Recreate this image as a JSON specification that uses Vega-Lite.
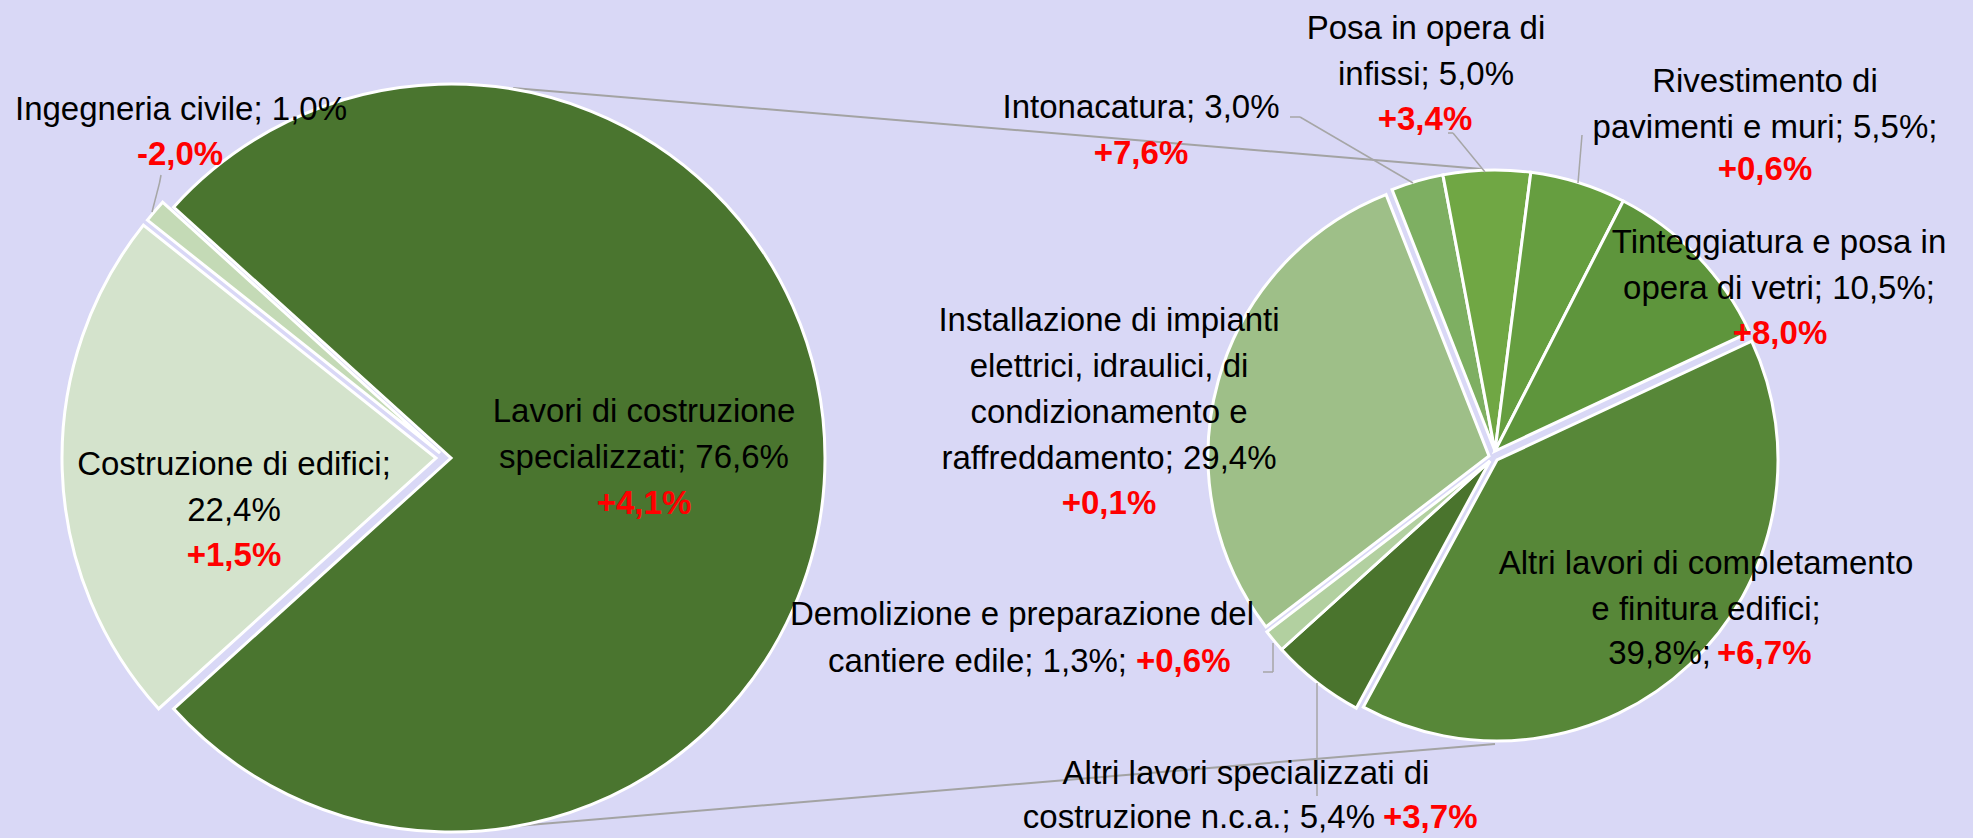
{
"$schema": "https://vega.github.io/schema/vega-lite/v6.json",
"width": 1973, "height": 838, "autosize": {"type": "none"}, "padding": 0,
"background": "#d9d8f6",
"config": {"view": {"stroke": null}, "text": {"font": "Liberation Sans", "fontSize": 33, "lineHeight": 46, "lineBreak": "\n", "baseline": "top", "align": "center", "fill": "#000000"}},
"datasets": {
"left": [
{"cat": "Lavori di costruzione specializzati", "share": 76.6, "ord": 1, "label": "Lavori di costruzione\nspecializzati; 76,6%", "delta": "+4,1%"},
{"cat": "Costruzione di edifici", "share": 22.4, "ord": 2, "label": "Costruzione di edifici;\n22,4%", "delta": "+1,5%"},
{"cat": "Ingegneria civile", "share": 1.0, "ord": 3, "label": "Ingegneria civile; 1,0%", "delta": "-2,0%"}
],
"right": [
{"cat": "Intonacatura", "share": 3.0, "ord": 1, "label": "Intonacatura; 3,0%", "delta": "+7,6%"},
{"cat": "Posa in opera di infissi", "share": 5.0, "ord": 2, "label": "Posa in opera di\ninfissi; 5,0%", "delta": "+3,4%"},
{"cat": "Rivestimento di pavimenti e muri", "share": 5.5, "ord": 3, "label": "Rivestimento di\npavimenti e muri; 5,5%;", "delta": "+0,6%"},
{"cat": "Tinteggiatura e posa in opera di vetri", "share": 10.5, "ord": 4, "label": "Tinteggiatura e posa in\nopera di vetri; 10,5%;", "delta": "+8,0%"},
{"cat": "Altri lavori di completamento e finitura edifici", "share": 39.8, "ord": 5, "label": "Altri lavori di completamento\ne finitura edifici;", "tail": "39,8%;", "delta": "+6,7%"},
{"cat": "Altri lavori specializzati di costruzione n.c.a.", "share": 5.4, "ord": 6, "label": "Altri lavori specializzati di", "tail": "costruzione n.c.a.; 5,4%", "delta": "+3,7%"},
{"cat": "Demolizione e preparazione del cantiere edile", "share": 1.3, "ord": 7, "label": "Demolizione e preparazione del", "tail": "cantiere edile; 1,3%;", "delta": "+0,6%"},
{"cat": "Installazione di impianti elettrici, idraulici, di condizionamento e raffreddamento", "share": 29.4, "ord": 8, "label": "Installazione di impianti\nelettrici, idraulici, di\ncondizionamento e\nraffreddamento; 29,4%", "delta": "+0,1%"}
],
"none": [{}]
},
"resolve": {"scale": {"theta": "independent", "color": "independent"}},
"layer": [
{"data": {"name": "none"}, "mark": {"type": "rule", "stroke": "#a3a3a3", "strokeWidth": 2}, "encoding": {"x": {"value": 513}, "y": {"value": 88}, "x2": {"value": 1482}, "y2": {"value": 169}}},
{"data": {"name": "none"}, "mark": {"type": "rule", "stroke": "#a3a3a3", "strokeWidth": 2}, "encoding": {"x": {"value": 505}, "y": {"value": 827}, "x2": {"value": 1495}, "y2": {"value": 744}}},

{"data": {"name": "left"}, "mark": {"type": "arc", "outerRadius": 374, "stroke": "#ffffff", "strokeWidth": 3},
 "encoding": {"x": {"value": 451}, "y": {"value": 458},
  "theta": {"field": "share", "type": "quantitative", "stack": true, "scale": {"range": [-0.8357, 5.4475]}},
  "order": {"field": "ord", "type": "quantitative"},
  "color": {"field": "cat", "type": "nominal", "legend": null, "scale": {"domain": ["Lavori di costruzione specializzati", "Costruzione di edifici", "Ingegneria civile"], "range": ["#4a752f", "#d4e3cc", "#c4dab6"]}},
  "opacity": {"condition": {"test": "datum.ord === 1", "value": 1}, "value": 0}}},
{"data": {"name": "left"}, "mark": {"type": "arc", "outerRadius": 374, "stroke": "#ffffff", "strokeWidth": 3},
 "encoding": {"x": {"value": 436}, "y": {"value": 458},
  "theta": {"field": "share", "type": "quantitative", "stack": true, "scale": {"range": [-0.8357, 5.4475]}},
  "order": {"field": "ord", "type": "quantitative"},
  "color": {"field": "cat", "type": "nominal", "legend": null, "scale": {"domain": ["Lavori di costruzione specializzati", "Costruzione di edifici", "Ingegneria civile"], "range": ["#4a752f", "#d4e3cc", "#c4dab6"]}},
  "opacity": {"condition": {"test": "datum.ord === 2", "value": 1}, "value": 0}}},
{"data": {"name": "left"}, "mark": {"type": "arc", "outerRadius": 374, "stroke": "#ffffff", "strokeWidth": 3},
 "encoding": {"x": {"value": 440}, "y": {"value": 453},
  "theta": {"field": "share", "type": "quantitative", "stack": true, "scale": {"range": [-0.8357, 5.4475]}},
  "order": {"field": "ord", "type": "quantitative"},
  "color": {"field": "cat", "type": "nominal", "legend": null, "scale": {"domain": ["Lavori di costruzione specializzati", "Costruzione di edifici", "Ingegneria civile"], "range": ["#4a752f", "#d4e3cc", "#c4dab6"]}},
  "opacity": {"condition": {"test": "datum.ord === 3", "value": 1}, "value": 0}}},

{"data": {"name": "right"}, "mark": {"type": "arc", "outerRadius": 281, "stroke": "#ffffff", "strokeWidth": 3},
 "encoding": {"x": {"value": 1495}, "y": {"value": 451},
  "theta": {"field": "share", "type": "quantitative", "stack": true, "scale": {"range": [-0.3752, 5.9080]}},
  "order": {"field": "ord", "type": "quantitative"},
  "color": {"field": "ord", "type": "nominal", "legend": null, "scale": {"domain": [1, 2, 3, 4, 5, 6, 7, 8], "range": ["#7eaf62", "#70a744", "#669e40", "#5e953c", "#578738", "#4a742d", "#b2d0a0", "#9ebf88"]}},
  "opacity": {"condition": {"test": "datum.ord <= 4", "value": 1}, "value": 0}}},
{"data": {"name": "right"}, "mark": {"type": "arc", "outerRadius": 281, "stroke": "#ffffff", "strokeWidth": 3},
 "encoding": {"x": {"value": 1497}, "y": {"value": 460},
  "theta": {"field": "share", "type": "quantitative", "stack": true, "scale": {"range": [-0.3752, 5.9080]}},
  "order": {"field": "ord", "type": "quantitative"},
  "color": {"field": "ord", "type": "nominal", "legend": null, "scale": {"domain": [1, 2, 3, 4, 5, 6, 7, 8], "range": ["#7eaf62", "#70a744", "#669e40", "#5e953c", "#578738", "#4a742d", "#b2d0a0", "#9ebf88"]}},
  "opacity": {"condition": {"test": "datum.ord === 5", "value": 1}, "value": 0}}},
{"data": {"name": "right"}, "mark": {"type": "arc", "outerRadius": 281, "stroke": "#ffffff", "strokeWidth": 3},
 "encoding": {"x": {"value": 1490}, "y": {"value": 461},
  "theta": {"field": "share", "type": "quantitative", "stack": true, "scale": {"range": [-0.3752, 5.9080]}},
  "order": {"field": "ord", "type": "quantitative"},
  "color": {"field": "ord", "type": "nominal", "legend": null, "scale": {"domain": [1, 2, 3, 4, 5, 6, 7, 8], "range": ["#7eaf62", "#70a744", "#669e40", "#5e953c", "#578738", "#4a742d", "#b2d0a0", "#9ebf88"]}},
  "opacity": {"condition": {"test": "datum.ord === 6 || datum.ord === 7", "value": 1}, "value": 0}}},
{"data": {"name": "right"}, "mark": {"type": "arc", "outerRadius": 281, "stroke": "#ffffff", "strokeWidth": 3},
 "encoding": {"x": {"value": 1489}, "y": {"value": 456},
  "theta": {"field": "share", "type": "quantitative", "stack": true, "scale": {"range": [-0.3752, 5.9080]}},
  "order": {"field": "ord", "type": "quantitative"},
  "color": {"field": "ord", "type": "nominal", "legend": null, "scale": {"domain": [1, 2, 3, 4, 5, 6, 7, 8], "range": ["#7eaf62", "#70a744", "#669e40", "#5e953c", "#578738", "#4a742d", "#b2d0a0", "#9ebf88"]}},
  "opacity": {"condition": {"test": "datum.ord === 8", "value": 1}, "value": 0}}},

{"data": {"name": "none"}, "mark": {"type": "rule", "stroke": "#a6a6a6", "strokeWidth": 1.5}, "encoding": {"x": {"value": 161}, "y": {"value": 175}, "x2": {"value": 159.5}, "y2": {"value": 183}}},
{"data": {"name": "none"}, "mark": {"type": "rule", "stroke": "#a6a6a6", "strokeWidth": 1.5}, "encoding": {"x": {"value": 159.5}, "y": {"value": 183}, "x2": {"value": 152}, "y2": {"value": 212}}},
{"data": {"name": "none"}, "mark": {"type": "rule", "stroke": "#a6a6a6", "strokeWidth": 1.5}, "encoding": {"x": {"value": 1290}, "y": {"value": 117}, "x2": {"value": 1300}, "y2": {"value": 117}}},
{"data": {"name": "none"}, "mark": {"type": "rule", "stroke": "#a6a6a6", "strokeWidth": 1.5}, "encoding": {"x": {"value": 1300}, "y": {"value": 117}, "x2": {"value": 1413}, "y2": {"value": 183}}},
{"data": {"name": "none"}, "mark": {"type": "rule", "stroke": "#a6a6a6", "strokeWidth": 1.5}, "encoding": {"x": {"value": 1448}, "y": {"value": 133}, "x2": {"value": 1453}, "y2": {"value": 133}}},
{"data": {"name": "none"}, "mark": {"type": "rule", "stroke": "#a6a6a6", "strokeWidth": 1.5}, "encoding": {"x": {"value": 1453}, "y": {"value": 133}, "x2": {"value": 1485}, "y2": {"value": 172}}},
{"data": {"name": "none"}, "mark": {"type": "rule", "stroke": "#a6a6a6", "strokeWidth": 1.5}, "encoding": {"x": {"value": 1582}, "y": {"value": 135}, "x2": {"value": 1578}, "y2": {"value": 183}}},
{"data": {"name": "none"}, "mark": {"type": "rule", "stroke": "#a6a6a6", "strokeWidth": 1.5}, "encoding": {"x": {"value": 1263}, "y": {"value": 672}, "x2": {"value": 1273}, "y2": {"value": 672}}},
{"data": {"name": "none"}, "mark": {"type": "rule", "stroke": "#a6a6a6", "strokeWidth": 1.5}, "encoding": {"x": {"value": 1273}, "y": {"value": 672}, "x2": {"value": 1273}, "y2": {"value": 643}}},
{"data": {"name": "none"}, "mark": {"type": "rule", "stroke": "#a6a6a6", "strokeWidth": 1.5}, "encoding": {"x": {"value": 1317}, "y": {"value": 683}, "x2": {"value": 1317}, "y2": {"value": 796}}},

{"data": {"name": "left"}, "transform": [{"filter": "datum.ord === 3"}], "mark": {"type": "text"}, "encoding": {"x": {"value": 181}, "y": {"value": 94}, "text": {"field": "label"}}},
{"data": {"name": "left"}, "transform": [{"filter": "datum.ord === 3"}], "mark": {"type": "text", "fontWeight": "bold", "fill": "#ff0000"}, "encoding": {"x": {"value": 180}, "y": {"value": 139}, "text": {"field": "delta"}}},
{"data": {"name": "left"}, "transform": [{"filter": "datum.ord === 2"}], "mark": {"type": "text"}, "encoding": {"x": {"value": 234}, "y": {"value": 449}, "text": {"field": "label"}}},
{"data": {"name": "left"}, "transform": [{"filter": "datum.ord === 2"}], "mark": {"type": "text", "fontWeight": "bold", "fill": "#ff0000"}, "encoding": {"x": {"value": 234}, "y": {"value": 540}, "text": {"field": "delta"}}},
{"data": {"name": "left"}, "transform": [{"filter": "datum.ord === 1"}], "mark": {"type": "text"}, "encoding": {"x": {"value": 644}, "y": {"value": 396}, "text": {"field": "label"}}},
{"data": {"name": "left"}, "transform": [{"filter": "datum.ord === 1"}], "mark": {"type": "text", "fontWeight": "bold", "fill": "#ff0000"}, "encoding": {"x": {"value": 644}, "y": {"value": 488}, "text": {"field": "delta"}}},

{"data": {"name": "right"}, "transform": [{"filter": "datum.ord === 1"}], "mark": {"type": "text"}, "encoding": {"x": {"value": 1141}, "y": {"value": 92}, "text": {"field": "label"}}},
{"data": {"name": "right"}, "transform": [{"filter": "datum.ord === 1"}], "mark": {"type": "text", "fontWeight": "bold", "fill": "#ff0000"}, "encoding": {"x": {"value": 1141}, "y": {"value": 138}, "text": {"field": "delta"}}},
{"data": {"name": "right"}, "transform": [{"filter": "datum.ord === 2"}], "mark": {"type": "text"}, "encoding": {"x": {"value": 1426}, "y": {"value": 13}, "text": {"field": "label"}}},
{"data": {"name": "right"}, "transform": [{"filter": "datum.ord === 2"}], "mark": {"type": "text", "fontWeight": "bold", "fill": "#ff0000"}, "encoding": {"x": {"value": 1425}, "y": {"value": 104}, "text": {"field": "delta"}}},
{"data": {"name": "right"}, "transform": [{"filter": "datum.ord === 3"}], "mark": {"type": "text"}, "encoding": {"x": {"value": 1765}, "y": {"value": 66}, "text": {"field": "label"}}},
{"data": {"name": "right"}, "transform": [{"filter": "datum.ord === 3"}], "mark": {"type": "text", "fontWeight": "bold", "fill": "#ff0000"}, "encoding": {"x": {"value": 1765}, "y": {"value": 154}, "text": {"field": "delta"}}},
{"data": {"name": "right"}, "transform": [{"filter": "datum.ord === 4"}], "mark": {"type": "text"}, "encoding": {"x": {"value": 1779}, "y": {"value": 227}, "text": {"field": "label"}}},
{"data": {"name": "right"}, "transform": [{"filter": "datum.ord === 4"}], "mark": {"type": "text", "fontWeight": "bold", "fill": "#ff0000"}, "encoding": {"x": {"value": 1780}, "y": {"value": 318}, "text": {"field": "delta"}}},
{"data": {"name": "right"}, "transform": [{"filter": "datum.ord === 8"}], "mark": {"type": "text"}, "encoding": {"x": {"value": 1109}, "y": {"value": 305}, "text": {"field": "label"}}},
{"data": {"name": "right"}, "transform": [{"filter": "datum.ord === 8"}], "mark": {"type": "text", "fontWeight": "bold", "fill": "#ff0000"}, "encoding": {"x": {"value": 1109}, "y": {"value": 488}, "text": {"field": "delta"}}},
{"data": {"name": "right"}, "transform": [{"filter": "datum.ord === 5"}], "mark": {"type": "text"}, "encoding": {"x": {"value": 1706}, "y": {"value": 548}, "text": {"field": "label"}}},
{"data": {"name": "right"}, "transform": [{"filter": "datum.ord === 5"}], "mark": {"type": "text", "align": "right"}, "encoding": {"x": {"value": 1711}, "y": {"value": 638}, "text": {"field": "tail"}}},
{"data": {"name": "right"}, "transform": [{"filter": "datum.ord === 5"}], "mark": {"type": "text", "align": "left", "fontWeight": "bold", "fill": "#ff0000"}, "encoding": {"x": {"value": 1717}, "y": {"value": 638}, "text": {"field": "delta"}}},
{"data": {"name": "right"}, "transform": [{"filter": "datum.ord === 7"}], "mark": {"type": "text"}, "encoding": {"x": {"value": 1022}, "y": {"value": 599}, "text": {"field": "label"}}},
{"data": {"name": "right"}, "transform": [{"filter": "datum.ord === 7"}], "mark": {"type": "text", "align": "right"}, "encoding": {"x": {"value": 1127}, "y": {"value": 646}, "text": {"field": "tail"}}},
{"data": {"name": "right"}, "transform": [{"filter": "datum.ord === 7"}], "mark": {"type": "text", "align": "left", "fontWeight": "bold", "fill": "#ff0000"}, "encoding": {"x": {"value": 1136}, "y": {"value": 646}, "text": {"field": "delta"}}},
{"data": {"name": "right"}, "transform": [{"filter": "datum.ord === 6"}], "mark": {"type": "text"}, "encoding": {"x": {"value": 1246}, "y": {"value": 758}, "text": {"field": "label"}}},
{"data": {"name": "right"}, "transform": [{"filter": "datum.ord === 6"}], "mark": {"type": "text", "align": "right"}, "encoding": {"x": {"value": 1375}, "y": {"value": 802}, "text": {"field": "tail"}}},
{"data": {"name": "right"}, "transform": [{"filter": "datum.ord === 6"}], "mark": {"type": "text", "align": "left", "fontWeight": "bold", "fill": "#ff0000"}, "encoding": {"x": {"value": 1383}, "y": {"value": 802}, "text": {"field": "delta"}}}
]
}
